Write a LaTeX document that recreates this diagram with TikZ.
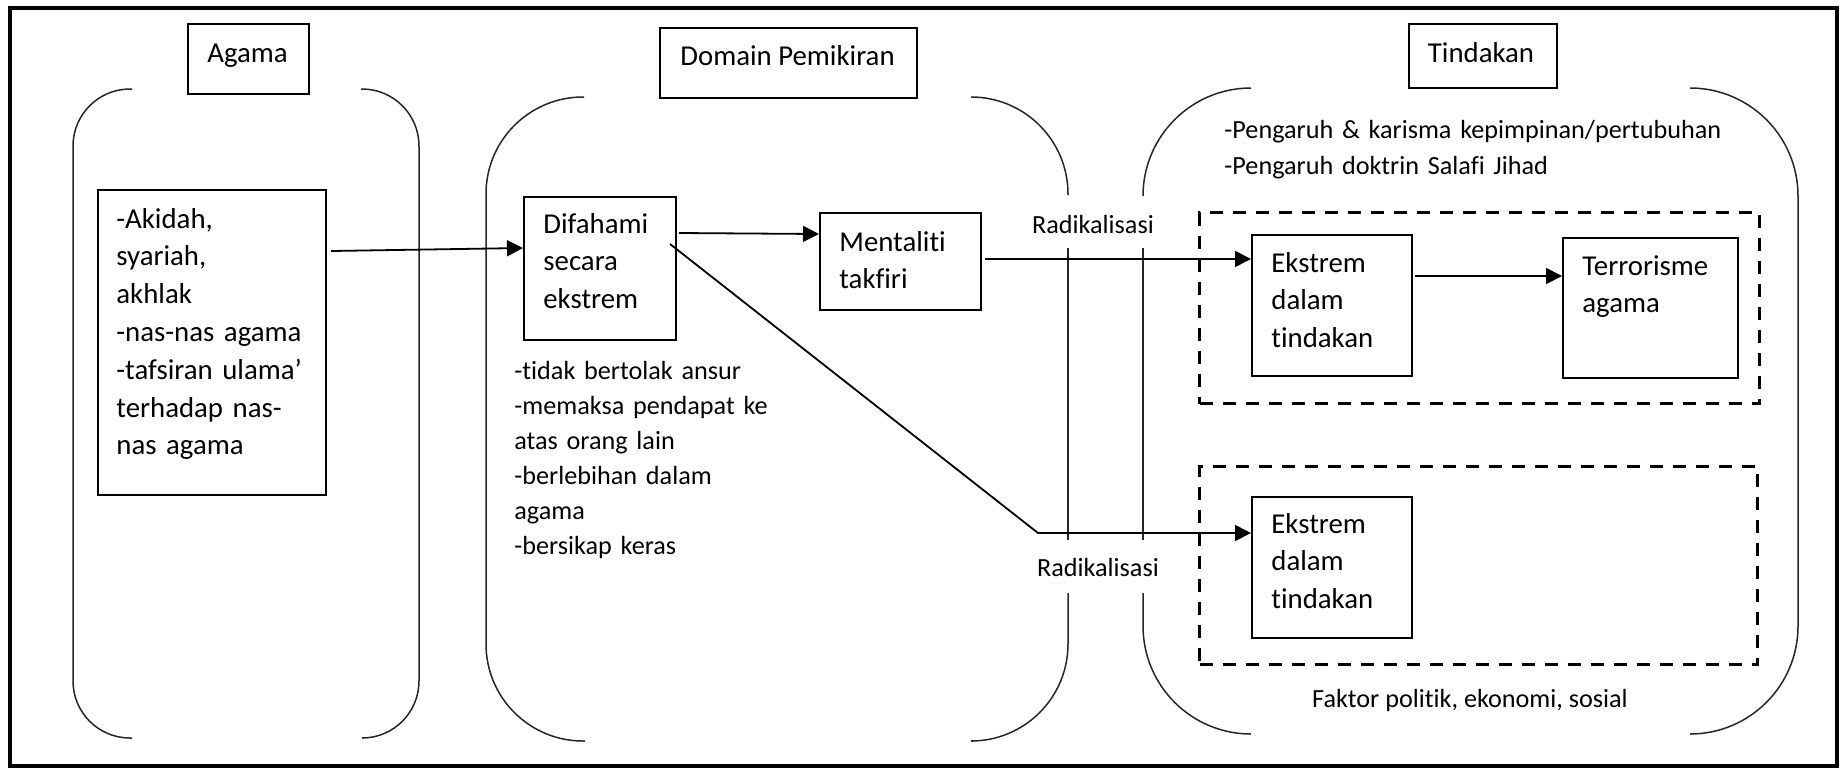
\documentclass[tikz,border=0pt]{standalone}
\usepackage{fontspec}
\setmainfont{Carlito}[Ligatures=NoCommon]
\usetikzlibrary{arrows.meta,calc}
\begin{document}
\begin{tikzpicture}[x=0.5pt,y=-0.5pt,
  box/.style={draw, line width=1pt, inner sep=0pt, anchor=north west},
  bigtxt/.style={font=\fontsize{14.4pt}{18.9pt}\selectfont, align=left, text width=120pt, inner sep=0pt, anchor=base west},
  headtxt/.style={font=\fontsize{14.4pt}{18.9pt}\selectfont, inner sep=0pt, anchor=base},
  smalltxt/.style={font=\fontsize{13.1pt}{17.5pt}\selectfont, align=left, text width=200pt, inner sep=0pt, anchor=base west},
  labtxt/.style={font=\fontsize{13.1pt}{17.5pt}\selectfont, inner sep=0pt, anchor=base},
  bracket/.style={line width=0.75pt, draw=black!85},
  conn/.style={line width=0.9pt},
  arr/.style={conn, -{Triangle[length=8pt,width=8pt]}},
  dashbox/.style={draw, line width=1.5pt, dash pattern=on 6.5pt off 5pt, inner sep=0pt, anchor=north west},
]
\useasboundingbox (0,0) rectangle (1841,767);
% outer frame
\draw[line width=2pt] (9.5,7.5) rectangle (1837,765.5);

% header boxes
\node[box, minimum width=60.5pt, minimum height=35pt] (agamabox) at (187,23) {};
\node[headtxt] (agamatxt) at (247.5,62) {Agama};
\node[box, minimum width=128.5pt, minimum height=35pt] (domainbox) at (659,27) {};
\node[headtxt] (domaintxt) at (787.5,65) {Domain Pemikiran};
\node[box, minimum width=74pt, minimum height=32pt] (tindakanbox) at (1408,23) {};
\node[headtxt] (tindakantxt) at (1481,62) {Tindakan};

% brackets
\draw[bracket, rounded corners=28.5pt] (132,89) -- (73,89) -- (73,738) -- (132,738);
\draw[bracket, rounded corners=28.5pt] (361,89) -- (419,89) -- (419,738) -- (362,738);
\draw[bracket, rounded corners=48.5pt] (584,97) -- (486,97) -- (486,741) -- (585,741);
\draw[bracket, rounded corners=48.5pt] (971,97) -- (1068,97) -- (1068,195);
\draw[bracket] (1068,248) -- (1068,540);
\draw[bracket, rounded corners=48.5pt] (1068,593) -- (1068,741) -- (973,741);
\draw[bracket, rounded corners=54pt] (1251,88) -- (1143,88) -- (1143,196);
\draw[bracket] (1143,248) -- (1143,540);
\draw[bracket, rounded corners=54pt] (1143,593) -- (1143,734) -- (1251,734);
\draw[bracket, rounded corners=54pt] (1690,88) -- (1798,88) -- (1798,734) -- (1690,734);

% content boxes
\node[box, minimum width=114pt, minimum height=152.5pt] (akidah) at (97,189) {};
\node[bigtxt, text width=110pt] (akidahtxt) at (116,228) {-Akidah,\\ syariah,\\ akhlak\\ -nas-nas agama\\ -tafsiran ulama’\\ terhadap nas-\\ nas agama};

\node[box, minimum width=76pt, minimum height=71.5pt] (difahami) at (523,196) {};
\node[bigtxt] (difahamitxt) at (543,233) {Difahami\\ secara\\ ekstrem};

\node[box, minimum width=80.5pt, minimum height=48.5pt] (mentaliti) at (819,212) {};
\node[bigtxt] (mentalititxt) at (839,251) {Mentaliti\\ takfiri};

\node[dashbox, minimum width=280pt, minimum height=95.5pt] (dash1) at (1198,211) {};
\node[dashbox, minimum width=279pt, minimum height=99pt] (dash2) at (1198,465) {};

\node[box, minimum width=80pt, minimum height=70.5pt] (ekstrem1) at (1251,234) {};
\node[bigtxt] (ekstrem1txt) at (1271,272) {Ekstrem\\ dalam\\ tindakan};

\node[box, minimum width=87.5pt, minimum height=70pt] (terror) at (1562,237) {};
\node[bigtxt] (terrortxt) at (1582,275) {Terrorisme\\ agama};

\node[box, minimum width=80pt, minimum height=70.5pt] (ekstrem2) at (1251,496) {};
\node[bigtxt] (ekstrem2txt) at (1271,533) {Ekstrem\\ dalam\\ tindakan};

% free texts
\node[smalltxt] (ciri) at (514,379) {-tidak bertolak ansur\\ -memaksa pendapat ke\\ atas orang lain\\ -berlebihan dalam\\ agama\\ -bersikap keras};
\node[smalltxt, font=\fontsize{13.1pt}{18.4pt}\selectfont, text width=300pt] (pengaruh) at (1224,138) {-Pengaruh \& karisma kepimpinan/pertubuhan\\ -Pengaruh doktrin Salafi Jihad};
\node[labtxt] (rad1) at (1093,233) {Radikalisasi};
\node[labtxt] (rad2) at (1098,576) {Radikalisasi};
\node[labtxt] (faktor) at (1470,707) {Faktor politik, ekonomi, sosial};

% connectors
\draw[arr] ($(akidah.north east)+(4,62)$) -- ($(difahami.north west)+(0,52)$);
\draw[arr] ($(difahami.north east)+(2,37)$) -- ($(mentaliti.north west)+(0,22)$);
\draw[arr] ($(mentaliti.north east)+(3,47)$) -- ($(ekstrem1.north west)+(0,25)$);
\coordinate (bend) at (1038,533);
\draw[arr] ($(difahami.north east)+(-7,48)$) -- (bend) -- ($(ekstrem2.north west)+(0,37)$);
\draw[arr] ($(ekstrem1.north east)+(2,42)$) -- ($(terror.north west)+(0,39)$);
\end{tikzpicture}
\end{document}
